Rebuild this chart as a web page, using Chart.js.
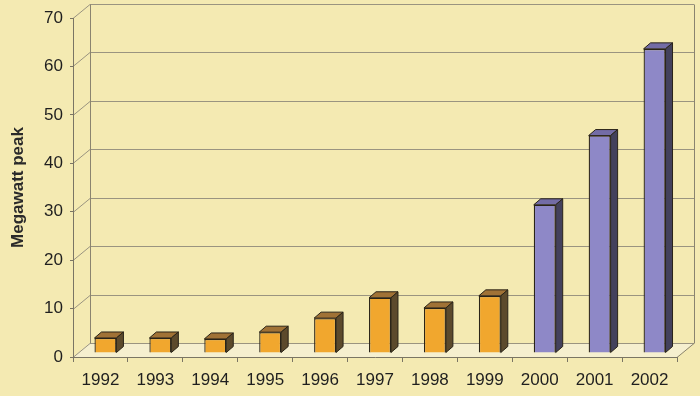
<!DOCTYPE html>
<html>
<head>
<meta charset="utf-8">
<script src="https://cdn.jsdelivr.net/npm/chart.js@4"></script>
<style>
  html, body { margin: 0; padding: 0; background: #f4eab2; }
  #wrap { width: 700px; height: 396px; position: relative; }
</style>
</head>
<body>
<div id="wrap"><canvas id="c" width="700" height="396"></canvas></div>
<script>
const years = ['1992','1993','1994','1995','1996','1997','1998','1999','2000','2001','2002'];
const megawattPeak = [3.1, 3.1, 2.9, 4.3, 7.2, 11.4, 9.3, 11.8, 30.6, 44.9, 62.8];
const yTicks = [0, 10, 20, 30, 40, 50, 60, 70];
const axisTitle = 'Megawatt peak';

const frontColors = megawattPeak.map((v, i) => i < 8 ? '#f1a72e' : '#8e88c7');
const topColors = megawattPeak.map((v, i) => i < 8 ? '#a07236' : '#736ca6');
const sideColors = megawattPeak.map((v, i) => i < 8 ? '#5c4a2c' : '#43415c');

const WALL_DX = 17, WALL_DY = -14;   // depth of the back wall
const BAR_DX = 5, BAR_DY = -4;       // bars placed a little behind the front
const BD_X = 7, BD_Y = -6;           // bar depth

const wallPlugin = {
  id: 'wall3d',
  beforeDraw(chart) {
    const ctx = chart.ctx;
    const ys = chart.scales.y, xs = chart.scales.x;
    const L = xs.left, R = xs.right;
    const y0 = ys.getPixelForValue(0);
    ctx.save();
    ctx.fillStyle = '#f4eab2';
    ctx.fillRect(0, 0, chart.width, chart.height);
    // floor
    ctx.fillStyle = '#f5efcf';
    ctx.beginPath();
    ctx.moveTo(L, y0);
    ctx.lineTo(R, y0);
    ctx.lineTo(R + WALL_DX, y0 + WALL_DY);
    ctx.lineTo(L + WALL_DX, y0 + WALL_DY);
    ctx.closePath();
    ctx.fill();
    // back wall grid
    ctx.strokeStyle = '#9a9480';
    ctx.lineWidth = 1;
    yTicks.forEach(v => {
      const y = Math.round(ys.getPixelForValue(v)) + 0.5;
      ctx.beginPath();
      ctx.moveTo(L + WALL_DX, y + WALL_DY);
      ctx.lineTo(R + WALL_DX, y + WALL_DY);
      ctx.stroke();
      ctx.beginPath();
      ctx.moveTo(L, y);
      ctx.lineTo(L + WALL_DX, y + WALL_DY);
      ctx.stroke();
    });
    const yTop = Math.round(ys.getPixelForValue(70)) + 0.5 + WALL_DY;
    const yBot = Math.round(y0) + 0.5 + WALL_DY;
    ctx.strokeStyle = '#8a846f';
    ctx.beginPath();
    ctx.moveTo(L + WALL_DX + 0.5, yTop);
    ctx.lineTo(L + WALL_DX + 0.5, yBot);
    ctx.stroke();
    ctx.beginPath();
    ctx.moveTo(R + WALL_DX + 0.5, yTop);
    ctx.lineTo(R + WALL_DX + 0.5, yBot);
    ctx.stroke();
    ctx.beginPath();
    ctx.moveTo(R, Math.round(y0) + 0.5);
    ctx.lineTo(R + WALL_DX, yBot);
    ctx.stroke();
    ctx.restore();
  },
  beforeDatasetsDraw(chart) {
    chart.ctx.save();
    chart.ctx.translate(BAR_DX, BAR_DY);
  },
  afterDatasetsDraw(chart) {
    const ctx = chart.ctx;
    const meta = chart.getDatasetMeta(0);
    meta.data.forEach((bar, i) => {
      const p = bar.getProps(['x', 'y', 'base', 'width'], true);
      const l = p.x - p.width / 2, r = p.x + p.width / 2;
      const t = p.y, b = p.base;
      ctx.lineWidth = 1;
      ctx.strokeStyle = '#2a2418';
      ctx.fillStyle = topColors[i];
      ctx.beginPath();
      ctx.moveTo(l, t); ctx.lineTo(l + BD_X, t + BD_Y);
      ctx.lineTo(r + BD_X, t + BD_Y); ctx.lineTo(r, t); ctx.closePath();
      ctx.fill(); ctx.stroke();
      ctx.fillStyle = sideColors[i];
      ctx.beginPath();
      ctx.moveTo(r, t); ctx.lineTo(r + BD_X, t + BD_Y);
      ctx.lineTo(r + BD_X, b + BD_Y); ctx.lineTo(r, b); ctx.closePath();
      ctx.fill(); ctx.stroke();
    });
    ctx.restore();
  }
};

new Chart(document.getElementById('c'), {
  type: 'bar',
  data: {
    labels: years,
    datasets: [{
      data: megawattPeak,
      backgroundColor: frontColors,
      borderColor: '#2a2418',
      borderWidth: 1.3,
      categoryPercentage: 1,
      barPercentage: 0.4,
      clip: false
    }]
  },
  options: {
    responsive: false,
    animation: false,
    devicePixelRatio: 1,
    layout: { padding: { top: 18, right: 23, left: 0, bottom: 0 } },
    plugins: { legend: { display: false }, tooltip: { enabled: false } },
    scales: {
      x: {
        afterFit(s) { s.height = 39; },
        grid: { offset: true, drawOnChartArea: false, tickLength: 5, color: '#7a7564' },
        border: { color: '#7a7564' },
        ticks: { color: '#1f1f1f', padding: 8, font: { family: 'Liberation Sans', size: 17 } }
      },
      y: {
        min: 0, max: 70,
        afterFit(s) { s.width = 73; },
        afterBuildTicks(s) { s.ticks = yTicks.map(v => ({ value: v })); },
        grid: { drawOnChartArea: false, tickLength: 3, color: '#7a7564' },
        border: { color: '#7a7564' },
        ticks: { color: '#1f1f1f', padding: 7, font: { family: 'Liberation Sans', size: 17 } },
        title: {
          display: true, text: axisTitle, color: '#2a2a2a',
          padding: { top: 8, bottom: 0 },
          font: { family: 'Liberation Sans', size: 17, weight: 'bold' }
        }
      }
    }
  },
  plugins: [wallPlugin]
});
</script>
</body>
</html>
